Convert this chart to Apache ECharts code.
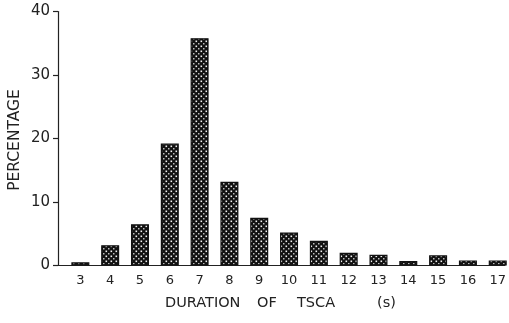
<!DOCTYPE html>
<html>
<head>
<meta charset="utf-8">
<script src="https://cdn.jsdelivr.net/npm/echarts@6/dist/echarts.min.js"></script>
<style>html,body{margin:0;padding:0;background:#fff;}#c{width:509px;height:323px;}</style>
</head>
<body>
<div id="c"></div>
<script>
const categories = [3, 4, 5, 6, 7, 8, 9, 10, 11, 12, 13, 14, 15, 16, 17];
const percentages = [0.5, 3.2, 6.5, 19.2, 35.8, 13.2, 7.5, 5.2, 3.9, 2.0, 1.7, 0.7, 1.6, 0.8, 0.8];
const yTicks = [0, 10, 20, 30, 40];
const xTitleWords = ['DURATION', 'OF', 'TSCA', '(s)'];
const yTitle = 'PERCENTAGE';

// dotted pattern fill
const tile = document.createElement('canvas');
tile.width = 5; tile.height = 5;
const g = tile.getContext('2d');
g.fillStyle = '#111';
g.fillRect(0, 0, 5, 5);
g.fillStyle = '#f2f2f2';
g.fillRect(0.5, 0.5, 1.6, 1.6);
g.fillStyle = '#bbb';
g.fillRect(3, 3, 1.5, 1.5);

const chart = echarts.init(document.getElementById('c'), null, {renderer: 'canvas'});
const font = '"DejaVu Sans", Verdana, sans-serif';
const wordX = [165, 257, 297, 377];
chart.setOption({
  animation: false,
  backgroundColor: '#fff',
  grid: {left: 58, right: 0, top: 11.5, bottom: 57.5},
  xAxis: {
    type: 'value',
    min: 2.25, max: 17.24,
    axisLine: {show: true, lineStyle: {color: '#222', width: 1.2}},
    axisTick: {show: false},
    splitLine: {show: false},
    axisLabel: {
      customValues: categories,
      color: '#222', fontSize: 13, fontFamily: font, margin: 9
    }
  },
  yAxis: {
    type: 'value',
    min: yTicks[0], max: yTicks[yTicks.length - 1], interval: 10,
    axisLine: {show: true, lineStyle: {color: '#222', width: 1.2}},
    axisTick: {show: true, inside: false, length: 5, lineStyle: {color: '#222', width: 1.2}},
    splitLine: {show: false},
    axisLabel: {color: '#222', fontSize: 15, fontFamily: font, margin: 8}
  },
  series: [{
    type: 'bar',
    barWidth: 18,
    data: categories.map((c, i) => [c, percentages[i]]),
    itemStyle: {
      color: {image: tile, repeat: 'repeat'},
      borderColor: '#111',
      borderWidth: 1.2
    }
  }],
  graphic: [
    {
      type: 'text', x: 15, y: 140, rotation: Math.PI / 2,
      style: {text: yTitle, fill: '#222', font: '15.5px ' + font, align: 'center', verticalAlign: 'middle'}
    }
  ].concat(xTitleWords.map((w, i) => ({
    type: 'text', x: wordX[i], y: 303,
    style: {text: w, fill: '#222', font: '14.5px ' + font, align: 'left', verticalAlign: 'middle'}
  })))
});
</script>
</body>
</html>
